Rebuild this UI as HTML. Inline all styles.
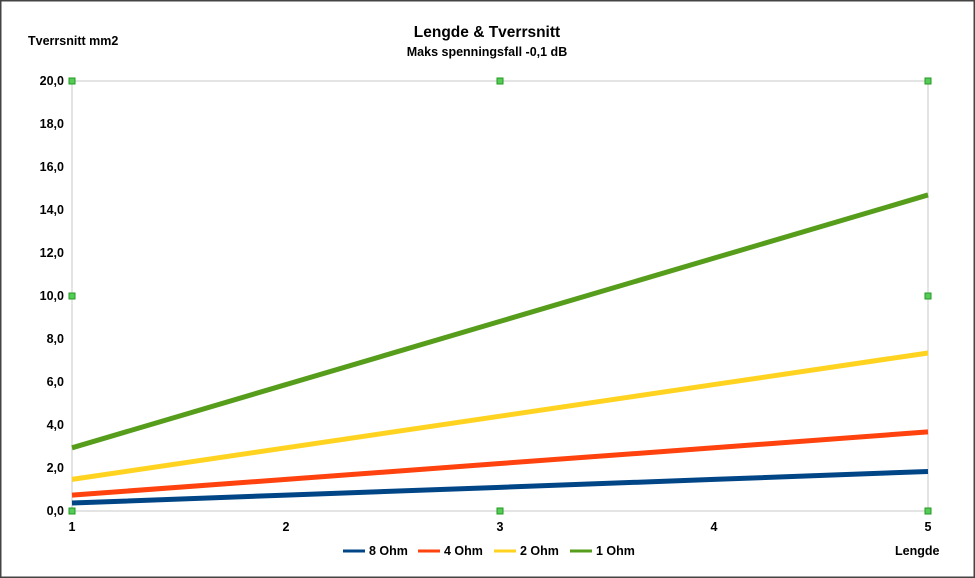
<!DOCTYPE html>
<html><head><meta charset="utf-8"><style>
html,body{margin:0;padding:0;background:#fff;}
svg{display:block;font-family:"Liberation Sans",Arial,sans-serif;}
</style></head><body>
<svg width="975" height="578" viewBox="0 0 975 578">
<rect x="0.5" y="0.5" width="974" height="577" fill="#fff" stroke="#444" stroke-width="2"/>
<text x="487" y="37" text-anchor="middle" font-size="15.5" font-weight="bold">Lengde &amp; Tverrsnitt</text>
<text x="487" y="56" text-anchor="middle" font-size="12.5" font-weight="bold">Maks spenningsfall -0,1 dB</text>
<text x="28" y="45" font-size="12.5" font-weight="bold">Tverrsnitt mm2</text>
<text x="895" y="555" font-size="12.5" font-weight="bold">Lengde</text>
<rect x="72" y="81" width="856" height="430" fill="none" stroke="#c8c8c8" stroke-width="1"/>
<g id="yticks"></g><g id="xticks"></g><g id="series"></g><g id="handles"></g>
<g id="legend"></g>
</svg>
<script>
const categories=[1,2,3,4,5];
const yTicks=[0,2,4,6,8,10,12,14,16,18,20];
const seriesNames=["8 Ohm","4 Ohm","2 Ohm","1 Ohm"];
const seriesColors=["#004586","#ff420e","#ffd320","#579d1c"];
const s8=[0.37,0.74,1.10,1.47,1.84];
const s4=[0.74,1.47,2.21,2.94,3.68];
const s2=[1.47,2.94,4.41,5.88,7.35];
const s1=[2.94,5.88,8.82,11.76,14.7];
const seriesValues=[s8,s4,s2,s1];
const NS="http://www.w3.org/2000/svg";
const X0=72,X1=928,Y0=511,Y1=81;
const xs=v=>X0+(v-1)/(4)*(X1-X0);
const ys=v=>Y0-v/20*(Y0-Y1);
function mk(t,a,p){const e=document.createElementNS(NS,t);for(const k in a)e.setAttribute(k,a[k]);p.appendChild(e);return e;}
const yg=document.getElementById('yticks');
yTicks.forEach(v=>{const t=mk('text',{x:64,y:ys(v)+4,'text-anchor':'end','font-size':'12.5','font-weight':'bold'},yg);t.textContent=v.toFixed(1).replace('.',',');

});
const xg=document.getElementById('xticks');
categories.forEach(c=>{const t=mk('text',{x:xs(c),y:531,'text-anchor':'middle','font-size':'12.5','font-weight':'bold'},xg);t.textContent=c;

});
const sg=document.getElementById('series');
seriesValues.forEach((vals,i)=>{const pts=vals.map((v,j)=>xs(categories[j])+','+ys(v)).join(' ');
const l=mk('polyline',{points:pts,fill:'none',stroke:seriesColors[i],'stroke-width':5},sg);

});
const hg=document.getElementById('handles');
[[X0,Y1],[500,Y1],[X1,Y1],[X0,296],[X1,296],[X0,Y0],[500,Y0],[X1,Y0]].forEach(p=>{const r=mk('rect',{x:p[0]-3,y:p[1]-3,width:6,height:6,fill:'#5c5',stroke:'#292','stroke-width':1},hg);

});
const lg=document.getElementById('legend');
const lx=[343,418,494,570];
seriesNames.forEach((n,i)=>{const g=mk('g',{},lg);


mk('line',{x1:lx[i],y1:551,x2:lx[i]+22,y2:551,stroke:seriesColors[i],'stroke-width':3},g);
const t=mk('text',{x:lx[i]+26,y:555,'font-size':'12.5','font-weight':'bold'},g);t.textContent=n;});
</script>
</body></html>
